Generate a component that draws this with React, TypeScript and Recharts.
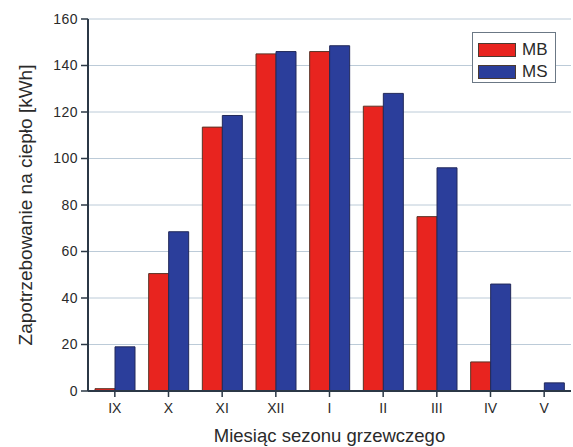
import React from "react";
import { BarChart, Bar, XAxis, YAxis, CartesianGrid, Legend } from "recharts";

const months = ["IX", "X", "XI", "XII", "I", "II", "III", "IV", "V"];
const mbValues = [1, 50.5, 113.5, 145, 146, 122.5, 75, 12.5, 0];
const msValues = [19, 68.5, 118.5, 146, 148.5, 128, 96, 46, 3.5];
const majorTicks = [0, 20, 40, 60, 80, 100, 120, 140, 160];
const minorTicks = [10, 30, 50, 70, 90, 110, 130, 150];

const data = months.map((m, i) => ({ month: m, MB: mbValues[i], MS: msValues[i] }));

const FONT = "'Liberation Sans', Arial, sans-serif";
const TEXT = "#2a2a2a";
const AXIS = "#2b3846";

const MinorTick = (props: any) => {
  const { x, y } = props;
  const axisX = x + 4;
  return <line x1={axisX - 4} x2={axisX} y1={y} y2={y} stroke={AXIS} strokeWidth={1.5} />;
};

const LegendBox = (props: any) => {
  const items = props.payload || [];
  return (
    <div
      style={{
        width: 84,
        height: 51,
        border: "1.5px solid #6b7885",
        background: "#fff",
        boxSizing: "border-box",
        paddingTop: 6,
        paddingLeft: 5,
        fontFamily: FONT,
      }}
    >
      {items.map((it: any) => (
        <div key={it.value} style={{ display: "flex", alignItems: "center", height: 22 }}>
          <div style={{ width: 38, height: 14, background: it.color, border: "1px solid #4a3a30", boxSizing: "border-box" }} />
          <span style={{ marginLeft: 6, fontSize: 17, color: TEXT }}>{it.value}</span>
        </div>
      ))}
    </div>
  );
};

export default function App() {
  return (
    <div style={{ position: "absolute", left: 0, top: 0, background: "#fff" }}>
      <BarChart
        width={573}
        height={447}
        data={data}
        margin={{ top: 19, right: 2, left: 0, bottom: 0 }}
        barGap={0}
        barSize={20}
      >
        <CartesianGrid vertical={false} stroke="#bccbd8" strokeWidth={1} />
        <XAxis
          dataKey="month"
          height={56}
          tickSize={6}
          tickMargin={6}
          stroke={AXIS}
          axisLine={{ stroke: AXIS, strokeWidth: 2 }}
          tickLine={{ stroke: AXIS, strokeWidth: 1.5 }}
          tick={{ fontSize: 14, fontFamily: FONT, fill: TEXT }}
          label={{
            value: "Miesiąc sezonu grzewczego",
            position: "insideBottom",
            offset: 5,
            fontSize: 18.5,
            fontFamily: FONT,
            fill: TEXT,
          }}
        />
        <XAxis xAxisId="top" orientation="top" dataKey="month" height={0} tick={false} tickLine={false} axisLine={{ stroke: AXIS, strokeWidth: 2 }} />
        <YAxis
          width={88}
          domain={[0, 160]}
          ticks={majorTicks}
          interval={0}
          tickSize={7}
          tickMargin={3}
          axisLine={{ stroke: AXIS, strokeWidth: 2 }}
          tickLine={{ stroke: AXIS, strokeWidth: 1.5 }}
          tick={{ fontSize: 14, fontFamily: FONT, fill: TEXT, letterSpacing: 0.5 }}
          label={(p: any) => {
            const vb = p.viewBox || { x: 0, y: 19, height: 372 };
            const cx = 25;
            const cy = vb.y + vb.height / 2;
            return (
              <text
                x={cx}
                y={cy}
                transform={`rotate(-90, ${cx}, ${cy})`}
                textAnchor="middle"
                dominantBaseline="central"
                fontSize={19}
                fontFamily={FONT}
                fill={TEXT}
              >
                Zapotrzebowanie na ciepło [kWh]
              </text>
            );
          }}
        />
        <YAxis
          yAxisId="minor"
          width={0}
          domain={[0, 160]}
          ticks={minorTicks}
          interval={0}
          tickSize={0}
          tickMargin={0}
          axisLine={false}
          tickLine={false}
          tick={<MinorTick />}
        />
        <YAxis
          yAxisId="right"
          orientation="right"
          width={0}
          domain={[0, 160]}
          tick={false}
          tickLine={false}
          axisLine={{ stroke: AXIS, strokeWidth: 2 }}
        />
        <Legend
          layout="vertical"
          align="center"
          verticalAlign="middle"
          wrapperStyle={{ top: 32, left: 472, width: 90 }}
          content={<LegendBox />}
        />
        <Bar dataKey="MB" name="MB" fill="#e8241f" stroke="#5a3326" strokeWidth={1} isAnimationActive={false} />
        <Bar dataKey="MS" name="MS" fill="#2b3e9b" stroke="#22295a" strokeWidth={1} isAnimationActive={false} />
      </BarChart>
    </div>
  );
}
